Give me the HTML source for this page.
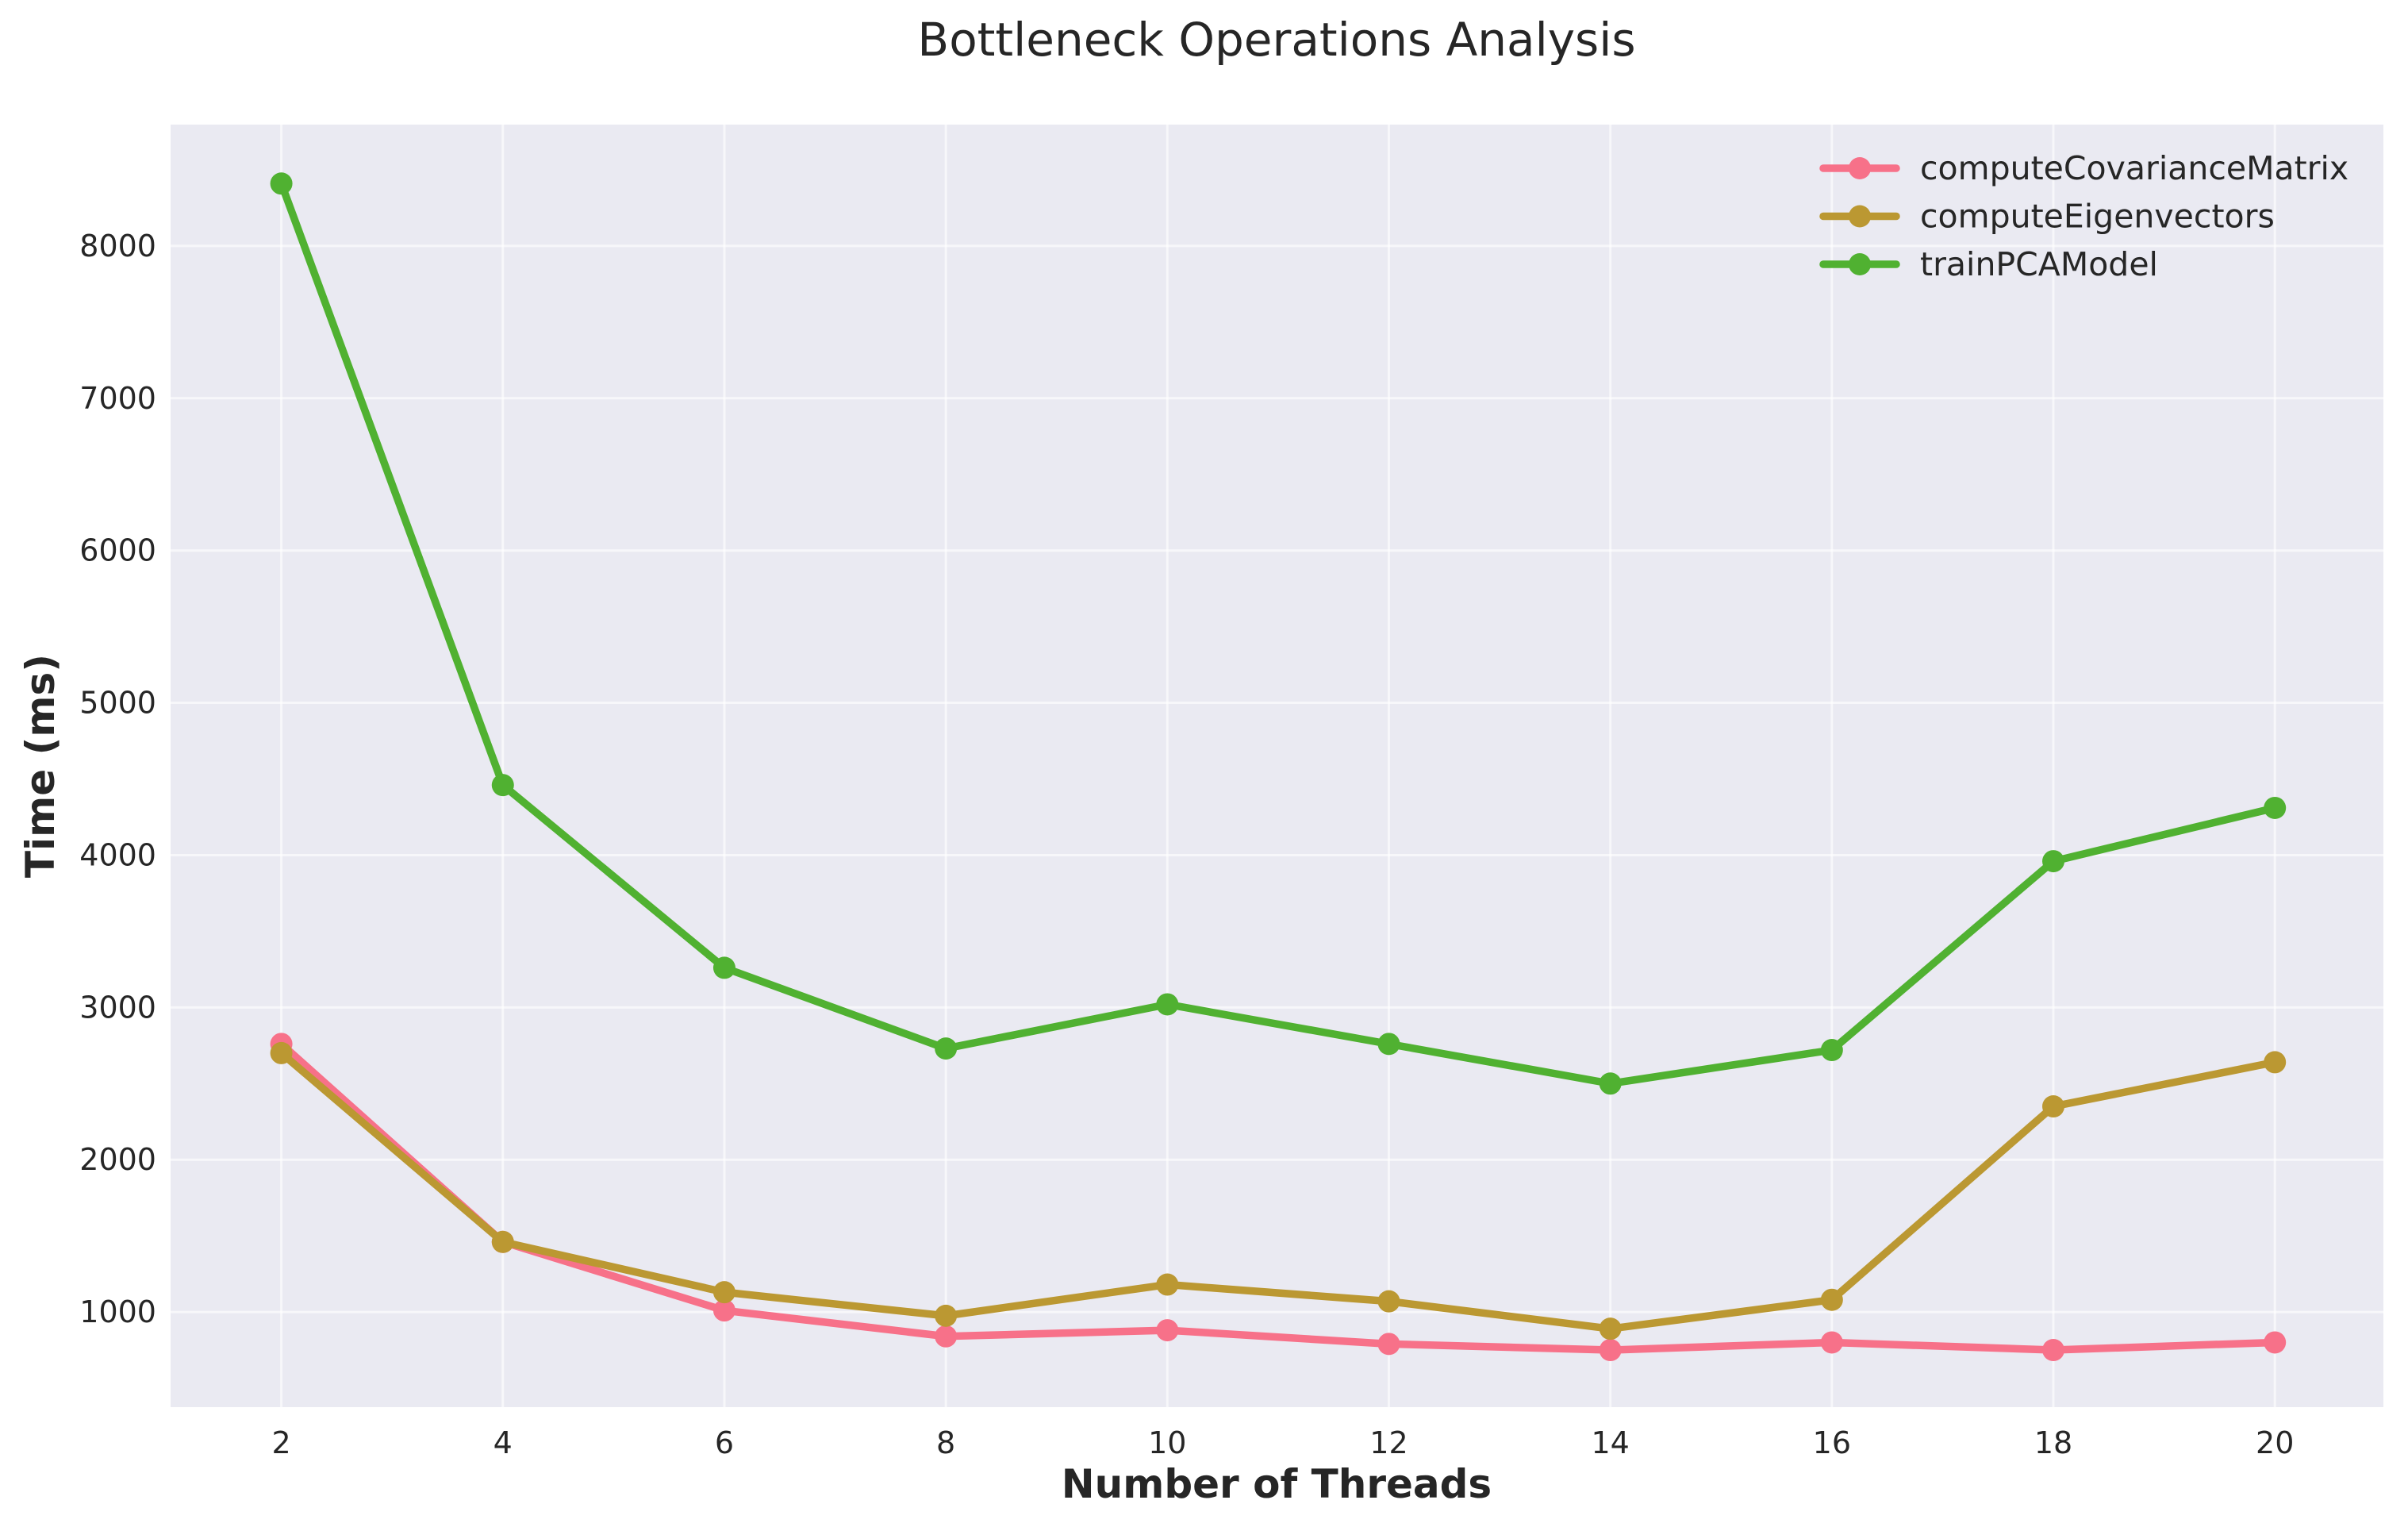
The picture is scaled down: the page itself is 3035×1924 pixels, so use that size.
<!DOCTYPE html>
<html><head><meta charset="utf-8"><style>
html,body{margin:0;padding:0;background:#fff;}
svg{display:block;font-family:"DejaVu Sans","Liberation Sans",sans-serif;}
</style></head><body>
<svg id="chart" width="3035" height="1924" viewBox="0 0 3035 1924" xmlns="http://www.w3.org/2000/svg">
<rect x="0" y="0" width="3035" height="1924" fill="#ffffff"/>
<text x="1609" y="70" font-size="58" fill="#262626" text-anchor="middle">Bottleneck Operations Analysis</text>
<rect x="215" y="157" width="2789" height="1616" fill="#eaeaf2"/>
<g id="grid"></g>
<g id="ticks"></g>
<g id="series"></g>
<text x="1609" y="1887" font-size="50" font-weight="bold" fill="#262626" text-anchor="middle">Number of Threads</text>
<text x="0" y="0" font-size="50" font-weight="bold" fill="#262626" text-anchor="middle" transform="translate(68,965) rotate(-90)">Time (ms)</text>
<g id="legend"></g>
</svg>
<script>
const threads = [2,4,6,8,10,12,14,16,18,20];
const covariance = [2760,1460,1010,840,880,790,750,800,750,800];
const eigen = [2700,1460,1130,975,1180,1070,890,1080,2350,2640];
const train = [8410,4460,3260,2730,3020,2760,2500,2720,3960,4310];
const seriesNames = ["computeCovarianceMatrix","computeEigenvectors","trainPCAModel"];
const xTicks = [2,4,6,8,10,12,14,16,18,20];
const yTicks = [1000,2000,3000,4000,5000,6000,7000,8000];

const NS="http://www.w3.org/2000/svg";
const L=215,R=3004,T=157,B=1773;
const xMin=1.0,xMax=20.98,yMin=375,yMax=8797;
const xs=v=>L+(v-xMin)/(xMax-xMin)*(R-L);
const ys=v=>B-(v-yMin)/(yMax-yMin)*(B-T);
function mk(tag,attrs,parent){const e=document.createElementNS(NS,tag);for(const k in attrs)e.setAttribute(k,attrs[k]);parent.appendChild(e);return e;}
const grid=document.getElementById('grid'),ticks=document.getElementById('ticks'),ser=document.getElementById('series'),leg=document.getElementById('legend');
xTicks.forEach(t=>{
  const g=mk('line',{x1:xs(t),x2:xs(t),y1:T,y2:B,stroke:'#ffffff','stroke-width':3,'stroke-opacity':0.6},grid);
  
  
  const tx=mk('text',{x:xs(t),y:B+58,'font-size':38,fill:'#262626','text-anchor':'middle'},ticks);
  tx.textContent=t;
  
  
});
yTicks.forEach(t=>{
  const g=mk('line',{x1:L,x2:R,y1:ys(t),y2:ys(t),stroke:'#ffffff','stroke-width':3,'stroke-opacity':0.6},grid);
  
  
  const tx=mk('text',{x:L-18,y:ys(t)+13,'font-size':38,fill:'#262626','text-anchor':'end'},ticks);
  tx.textContent=t;
  
  
});
const colors=['#f77189','#bb9832','#50b131'];
const data=[covariance,eigen,train];
data.forEach((arr,i)=>{
  const g=mk('g',{},ser);
  
  
  const pts=arr.map((v,j)=>xs(threads[j])+','+ys(v)).join(' ');
  const pl=mk('polyline',{points:pts,fill:'none',stroke:colors[i],'stroke-width':9.5,'stroke-linejoin':'round','stroke-linecap':'round'},g);
  
  
  arr.forEach((v,j)=>{
    const c=mk('circle',{cx:xs(threads[j]),cy:ys(v),r:14,fill:colors[i]},g);
    
    
  });
  const ly=212+i*60.5;
  const lg=mk('g',{},leg);
  
  
  mk('line',{x1:2298,x2:2390,y1:ly,y2:ly,stroke:colors[i],'stroke-width':9.5,'stroke-linecap':'round'},lg);
  mk('circle',{cx:2344,cy:ly,r:14,fill:colors[i]},lg);
  const lt=mk('text',{x:2420,y:ly+14,'font-size':41,fill:'#262626'},lg);
  lt.textContent=seriesNames[i];
});
</script>
</body></html>
